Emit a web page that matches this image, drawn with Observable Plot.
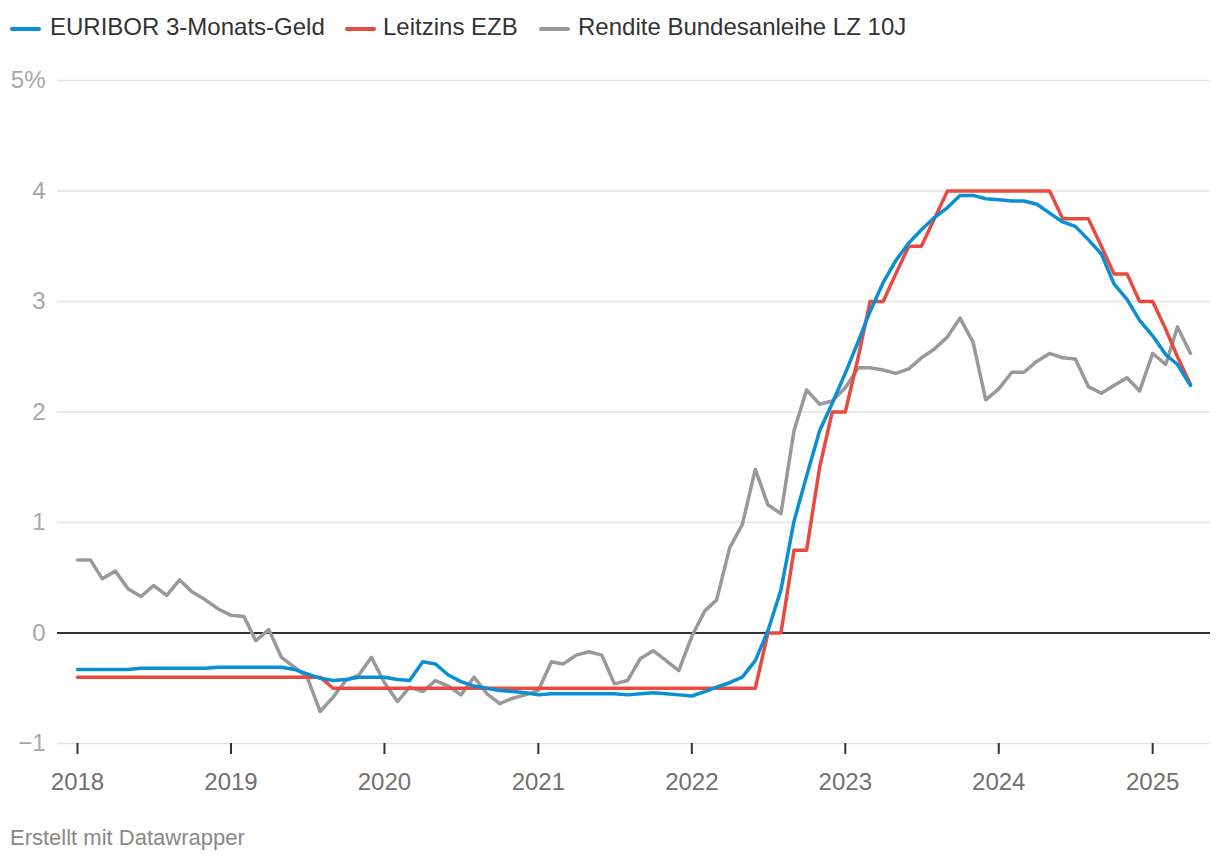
<!DOCTYPE html>
<html>
<head>
<meta charset="utf-8">
<script src="https://cdn.jsdelivr.net/npm/d3@7"></script>
<script src="https://cdn.jsdelivr.net/npm/@observablehq/plot@0.6"></script>
<style>
  html, body { margin: 0; padding: 0; background: #fff; }
  body { width: 1220px; height: 862px; overflow: hidden; font-family: "Liberation Sans", Arial, Helvetica, sans-serif; }
  #legend { position: relative; height: 52px; }
  .sw { position: absolute; top: 27px; width: 31px; height: 4px; border-radius: 2px; }
  .lt { position: absolute; top: 12px; font-size: 24px; line-height: 30px; color: #333; white-space: nowrap; }
  #footer { height: 50px; box-sizing: border-box; padding: 13px 0 0 10px; font-size: 22px; line-height: 26px; color: #888; }
</style>
</head>
<body>
<div id="legend"></div>
<div id="chart"></div>
<div id="footer">Erstellt mit Datawrapper</div>
<script>
// Series names and colours
const seriesNames = ["EURIBOR 3-Monats-Geld", "Leitzins EZB", "Rendite Bundesanleihe LZ 10J"];
const seriesColors = ["#0b8fd3", "#e84a3f", "#999999"];

// Monthly values, Jan 2018 – Apr 2025
const euribor = [
  -0.33,-0.33,-0.33,-0.33,-0.33,-0.32,-0.32,-0.32,-0.32,-0.32,-0.32,-0.31,
  -0.31,-0.31,-0.31,-0.31,-0.31,-0.33,-0.37,-0.41,-0.43,-0.42,-0.40,-0.40,
  -0.40,-0.42,-0.43,-0.26,-0.28,-0.38,-0.44,-0.48,-0.50,-0.52,-0.53,-0.54,
  -0.56,-0.55,-0.55,-0.55,-0.55,-0.55,-0.55,-0.56,-0.55,-0.54,-0.55,-0.56,
  -0.57,-0.53,-0.49,-0.45,-0.40,-0.25,0.02,0.39,1.01,1.42,1.83,2.08,
  2.35,2.64,2.91,3.17,3.37,3.53,3.65,3.76,3.85,3.96,3.96,3.93,
  3.92,3.91,3.91,3.88,3.80,3.72,3.68,3.56,3.43,3.16,3.02,2.83,
  2.69,2.52,2.43,2.24
];
const leitzins = [
  -0.40,-0.40,-0.40,-0.40,-0.40,-0.40,-0.40,-0.40,-0.40,-0.40,-0.40,-0.40,
  -0.40,-0.40,-0.40,-0.40,-0.40,-0.40,-0.40,-0.40,-0.50,-0.50,-0.50,-0.50,
  -0.50,-0.50,-0.50,-0.50,-0.50,-0.50,-0.50,-0.50,-0.50,-0.50,-0.50,-0.50,
  -0.50,-0.50,-0.50,-0.50,-0.50,-0.50,-0.50,-0.50,-0.50,-0.50,-0.50,-0.50,
  -0.50,-0.50,-0.50,-0.50,-0.50,-0.50,0.00,0.00,0.75,0.75,1.50,2.00,
  2.00,2.50,3.00,3.00,3.25,3.50,3.50,3.75,4.00,4.00,4.00,4.00,
  4.00,4.00,4.00,4.00,4.00,3.75,3.75,3.75,3.50,3.25,3.25,3.00,
  3.00,2.75,2.50,2.25
];
const rendite = [
  0.66,0.66,0.49,0.56,0.40,0.33,0.43,0.34,0.48,0.37,0.30,0.22,
  0.16,0.15,-0.07,0.03,-0.22,-0.31,-0.40,-0.71,-0.58,-0.43,-0.38,-0.22,
  -0.45,-0.62,-0.49,-0.53,-0.43,-0.48,-0.56,-0.40,-0.55,-0.64,-0.59,-0.56,
  -0.52,-0.26,-0.28,-0.20,-0.17,-0.20,-0.46,-0.43,-0.23,-0.16,-0.25,-0.34,
  -0.03,0.20,0.30,0.77,0.98,1.48,1.16,1.08,1.83,2.20,2.07,2.10,
  2.22,2.40,2.40,2.38,2.35,2.39,2.49,2.57,2.68,2.85,2.63,2.11,
  2.21,2.36,2.36,2.46,2.53,2.49,2.48,2.23,2.17,2.24,2.31,2.19,
  2.53,2.43,2.77,2.53
];

const startDate = new Date(Date.UTC(2018, 0, 1));
const endDate = new Date(Date.UTC(2025, 3, 1));
const months = d3.utcMonth.range(startDate, d3.utcMonth.offset(endDate, 1));

const yTicks = [-1, 0, 1, 2, 3, 4, 5];
const gridTicks = [-1, 1, 2, 3, 4, 5];
const xTickYears = [2018, 2019, 2020, 2021, 2022, 2023, 2024, 2025];

const toRows = (arr) => arr.map((v, i) => ({date: months[i], value: v}));

// Legend
const legendPos = [[10, 50], [345, 383], [539, 578]];
const legend = document.getElementById("legend");
seriesNames.forEach((name, i) => {
  const sw = document.createElement("div");
  sw.className = "sw";
  sw.style.left = legendPos[i][0] + "px";
  sw.style.background = seriesColors[i];
  legend.appendChild(sw);
  const t = document.createElement("div");
  t.className = "lt";
  t.style.left = legendPos[i][1] + "px";
  t.textContent = name;
  legend.appendChild(t);
});

const fmtY = (d) => d === 5 ? "5%" : (d < 0 ? "\u2212" + Math.abs(d) : String(d));

const chart = Plot.plot({
  width: 1220,
  height: 760,
  marginLeft: 57,
  marginRight: 10,
  marginTop: 28,
  marginBottom: 69,
  style: {fontFamily: "'Liberation Sans', Arial, Helvetica, sans-serif", fontSize: "24px", background: "#fff", overflow: "visible"},
  x: {type: "utc", domain: [startDate, endDate], insetLeft: 20, insetRight: 20},
  y: {domain: [-1, 5]},
  marks: [
    Plot.ruleY(gridTicks, {stroke: "#e3e3e3", strokeWidth: 1.5}),
    Plot.axisY(yTicks, {anchor: "left", tickSize: 0, tickPadding: 12, tickFormat: fmtY, fill: "#a8a8a8", fontSize: 24, label: null}),
    Plot.axisX(xTickYears.map(y => new Date(Date.UTC(y, 0, 1))), {tickSize: 11, tickPadding: 18, tickFormat: d3.utcFormat("%Y"), stroke: "#333", strokeWidth: 2, fill: "#707070", fontSize: 24, label: null}),
    Plot.ruleY([0], {stroke: "#333", strokeWidth: 2}),
    Plot.lineY(toRows(rendite), {x: "date", y: "value", stroke: seriesColors[2], strokeWidth: 3.5, strokeLinejoin: "round", strokeLinecap: "round"}),
    Plot.lineY(toRows(leitzins), {x: "date", y: "value", stroke: seriesColors[1], strokeWidth: 3.5, strokeLinejoin: "round", strokeLinecap: "round"}),
    Plot.lineY(toRows(euribor), {x: "date", y: "value", stroke: seriesColors[0], strokeWidth: 3.5, strokeLinejoin: "round", strokeLinecap: "round"})
  ]
});
document.getElementById("chart").appendChild(chart);
</script>
</body>
</html>
